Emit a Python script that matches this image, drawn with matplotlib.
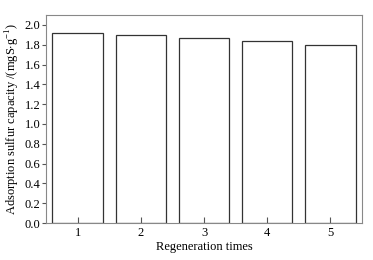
import matplotlib
matplotlib.use('Agg')
import matplotlib.pyplot as plt

plt.rcParams['font.family'] = ['Liberation Serif', 'DejaVu Serif']
plt.rcParams['mathtext.fontset'] = 'custom'
plt.rcParams['mathtext.rm'] = 'Liberation Serif'

times = [1, 2, 3, 4, 5]
capacity = [1.92, 1.90, 1.87, 1.84, 1.80]
yticks = [0.0, 0.2, 0.4, 0.6, 0.8, 1.0, 1.2, 1.4, 1.6, 1.8, 2.0]

fig = plt.figure(figsize=(3.73, 2.6), dpi=100)
ax = fig.add_axes([46/373, 1-223/260, (362-46)/373, (223-15)/260])

ax.bar(times, capacity, width=0.8, color='white', edgecolor='#333333', linewidth=0.9)
ax.set_xlim(0.5, 5.5)
ax.set_ylim(0, 2.1)
ax.set_yticks(yticks)
ax.set_yticklabels(['%.1f' % v for v in yticks])
ax.set_xticks(times)

for s in ax.spines.values():
    s.set_color('#888888')
    s.set_linewidth(0.8)

ax.tick_params(axis='y', direction='out', length=3, color='#555555', labelsize=9, pad=1)
ax.tick_params(axis='x', direction='in', length=4, color='#555555', labelsize=9, pad=3)

ax.set_xlabel('Regeneration times', fontsize=9, labelpad=1)
ax.set_ylabel(r'Adsorption sulfur capacity /(mgS$\cdot$g$^{-1}$)', fontsize=9, labelpad=2)

fig.savefig('out.png', dpi=100)
